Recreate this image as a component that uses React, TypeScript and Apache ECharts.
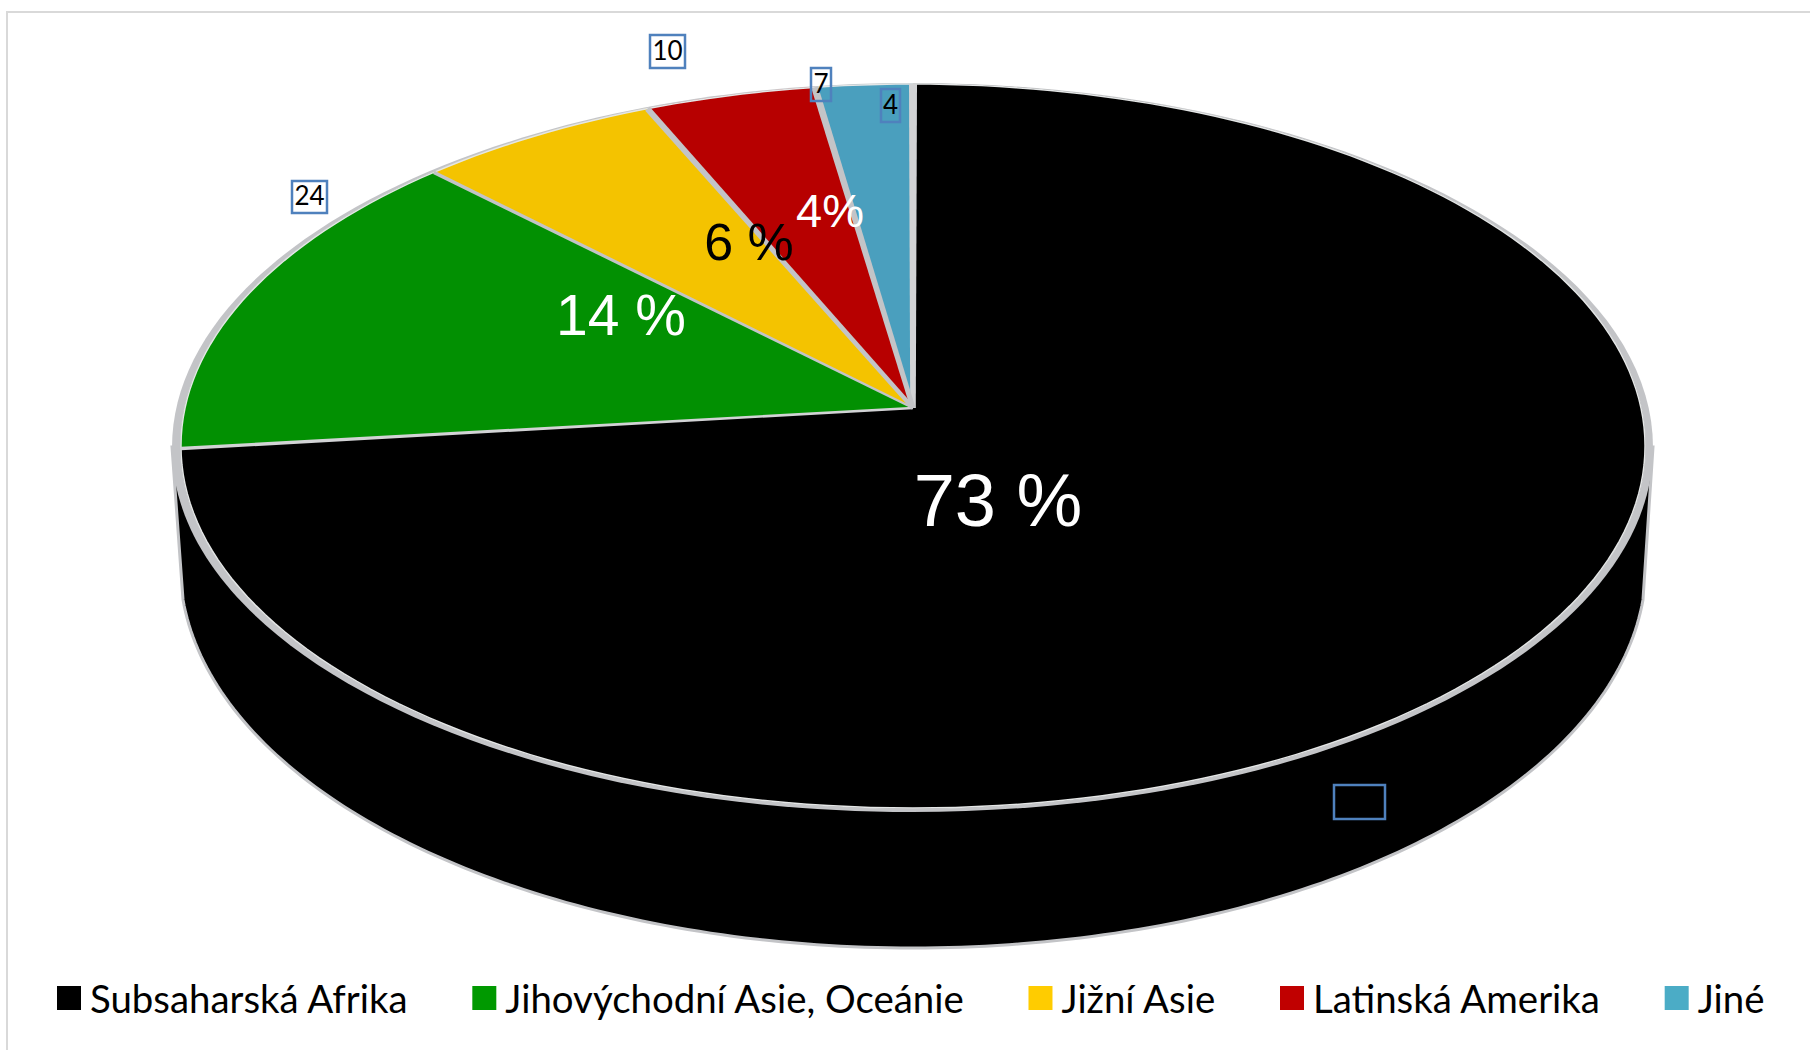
import React, { useEffect, useRef } from "react";
import * as echarts from "echarts";

const categories = [
  "Subsaharská Afrika",
  "Jihovýchodní Asie, Oceánie",
  "Jižní Asie",
  "Latinská Amerika",
  "Jiné",
];
const counts = [123, 24, 10, 7, 4];
const percentLabels = ["73 %", "14 %", "6 %", "4%", ""];
const countLabels = ["", "24", "10", "7", "4"];

const sliceColors = ["#000000", "#029002", "#F4C300", "#B70000", "#4A9FBE"];
const legendColors = ["#000000", "#009900", "#FFCC00", "#C00000", "#4BACC6"];

// Separator width between a slice and the previous one, widest on the far rim.
const separatorWidths = [8, 3.5, 3.5, 6, 7];

const percentStyles = [
  { x: 998, y: 500, size: 74, color: "#ffffff" },
  { x: 621, y: 315, size: 57, color: "#ffffff" },
  { x: 749, y: 242, size: 52, color: "#000000" },
  { x: 830, y: 210, size: 47, color: "#ffffff" },
];
const countBoxes = [
  { x: 1334, y: 785, w: 51, h: 34 },
  { x: 292, y: 181, w: 35, h: 32 },
  { x: 650, y: 35, w: 35, h: 33 },
  { x: 811, y: 68, w: 20, h: 33 },
  { x: 881, y: 89, w: 19, h: 33 },
];

// Perspective of the disc: apex position, and the projection of its unit circle.
const APEX_X = 913;
const APEX_Y = 408;
const SCALE_X = 728;
const SCALE_Y = 358;
const PERSPECTIVE = -0.105;

const project = (clockwiseDeg: number) => {
  const a = (clockwiseDeg * Math.PI) / 180;
  const u = Math.sin(a);
  const v = -Math.cos(a);
  const w = 1 + PERSPECTIVE * v;
  return [APEX_X + (SCALE_X * u) / w, APEX_Y + (SCALE_Y * v) / w];
};

const total = counts.reduce((s, v) => s + v, 0);
const startAngle = (i: number) =>
  (counts.slice(0, i).reduce((s, v) => s + v, 0) / total) * 360;

const ellipsePoints = (cx: number, cy: number, rx: number, ry: number, from: number, to: number) => {
  const pts: number[][] = [];
  const steps = 180;
  for (let k = 0; k <= steps; k++) {
    const t = ((from + ((to - from) * k) / steps) * Math.PI) / 180;
    pts.push([cx + rx * Math.cos(t), cy + ry * Math.sin(t)]);
  }
  return pts;
};

const GREY = "#c3c4c7";

// Disc wall: sides run down from the rim into the lower half of the base ellipse.
const renderBody = () => {
  const base = ellipsePoints(913, 565, 733, 383, 5.2, 174.8);
  const outline = [[1653, 447], ...base, [172, 447]];
  return {
    type: "group",
    children: [
      {
        type: "polygon",
        shape: { points: outline },
        style: { fill: "#000000", stroke: GREY, lineWidth: 3 },
      },
      {
        type: "ellipse",
        shape: { cx: 912.5, cy: 447.5, rx: 740.5, ry: 364.5 },
        style: { fill: GREY },
      },
    ],
  };
};

const renderSlice = (i: number) => () => {
  const from = startAngle(i);
  const to = startAngle(i + 1);
  const steps = Math.max(8, Math.ceil((to - from) * 1.5));
  const points = [[APEX_X, APEX_Y]];
  for (let k = 0; k <= steps; k++) points.push(project(from + ((to - from) * k) / steps));
  return {
    type: "polygon",
    shape: { points },
    style: { fill: sliceColors[i], stroke: sliceColors[i], lineWidth: 0.5 },
  };
};

// Rim highlight, tapered separators and the value labels sit above every slice.
const renderOverlay = () => {
  const children: any[] = [];
  const rim: number[][] = [];
  for (let k = 0; k <= 360; k += 1.5) rim.push(project(k));
  children.push({
    type: "polyline",
    shape: { points: rim },
    style: { fill: "none", stroke: "#e4e6e6", lineWidth: 1.5 },
  });
  counts.forEach((_, i) => {
    const [x, y] = project(startAngle(i));
    const dx = x - APEX_X;
    const dy = y - APEX_Y;
    const len = Math.hypot(dx, dy);
    const nx = -dy / len;
    const ny = dx / len;
    const outer = separatorWidths[i] / 2;
    const inner = outer * 0.7;
    children.push({
      type: "polygon",
      shape: {
        points: [
          [APEX_X + nx * inner, APEX_Y + ny * inner],
          [x + nx * outer, y + ny * outer],
          [x - nx * outer, y - ny * outer],
          [APEX_X - nx * inner, APEX_Y - ny * inner],
        ],
      },
      style: { fill: i < 2 ? "#d2d3d5" : GREY },
    });
  });
  percentLabels.forEach((text, i) => {
    if (!text) return;
    const s = percentStyles[i];
    children.push({
      type: "text",
      style: {
        x: s.x,
        y: s.y,
        text,
        fill: s.color,
        font: `${s.size}px "Liberation Sans", Arial, sans-serif`,
        align: "center",
        verticalAlign: "middle",
      },
    });
  });
  countLabels.forEach((text, i) => {
    const b = countBoxes[i];
    children.push({
      type: "rect",
      shape: { x: b.x, y: b.y, width: b.w, height: b.h },
      style: { fill: "none", stroke: "#4F81BD", lineWidth: 2.5 },
    });
    if (text) {
      children.push({
        type: "text",
        style: {
          x: b.x + b.w / 2,
          y: b.y + b.h / 2 - 2,
          text,
          fill: "#000000",
          font: '26px Lato, "Liberation Sans", sans-serif',
          align: "center",
          verticalAlign: "middle",
        },
      });
    }
  });
  return { type: "group", children };
};

export default function App() {
  const ref = useRef<HTMLDivElement>(null);

  useEffect(() => {
    document.body.style.margin = "0";
    document.body.style.background = "#ffffff";
    const chart = echarts.init(ref.current!, undefined, { renderer: "svg" });
    chart.setOption({
      animation: false,
      backgroundColor: "#ffffff",
      legend: {
        left: 57,
        top: 979,
        padding: 0,
        itemGap: 63.5,
        itemWidth: 24,
        itemHeight: 24,
        icon: "rect",
        selectedMode: false,
        textStyle: {
          fontFamily: "Lato",
          fontSize: 38.4,
          color: "#000000",
          padding: [0, 0, 0, 4],
        },
        data: categories.map((name, i) => ({
          name,
          itemStyle: { color: legendColors[i] },
        })),
      },
      graphic: [
        {
          type: "rect",
          silent: true,
          z: 0,
          shape: { x: 7, y: 12, width: 1830, height: 1060 },
          style: { fill: "none", stroke: "#d9d9d9", lineWidth: 2 },
        },
      ],
      series: [
        {
          type: "custom",
          name: "wall",
          coordinateSystem: "none",
          silent: true,
          z: 1,
          data: [total],
          renderItem: renderBody,
        },
        ...categories.map((name, i) => ({
          type: "custom",
          name,
          coordinateSystem: "none",
          silent: true,
          z: 2,
          itemStyle: { color: legendColors[i] },
          data: [{ name, value: counts[i] }],
          renderItem: renderSlice(i),
        })),
        {
          type: "custom",
          name: "overlay",
          coordinateSystem: "none",
          silent: true,
          z: 3,
          data: [total],
          renderItem: renderOverlay,
        },
      ],
    });
    return () => chart.dispose();
  }, []);

  return (
    <div
      ref={ref}
      style={{ position: "absolute", left: 0, top: 0, width: 1810, height: 1050 }}
    />
  );
}
